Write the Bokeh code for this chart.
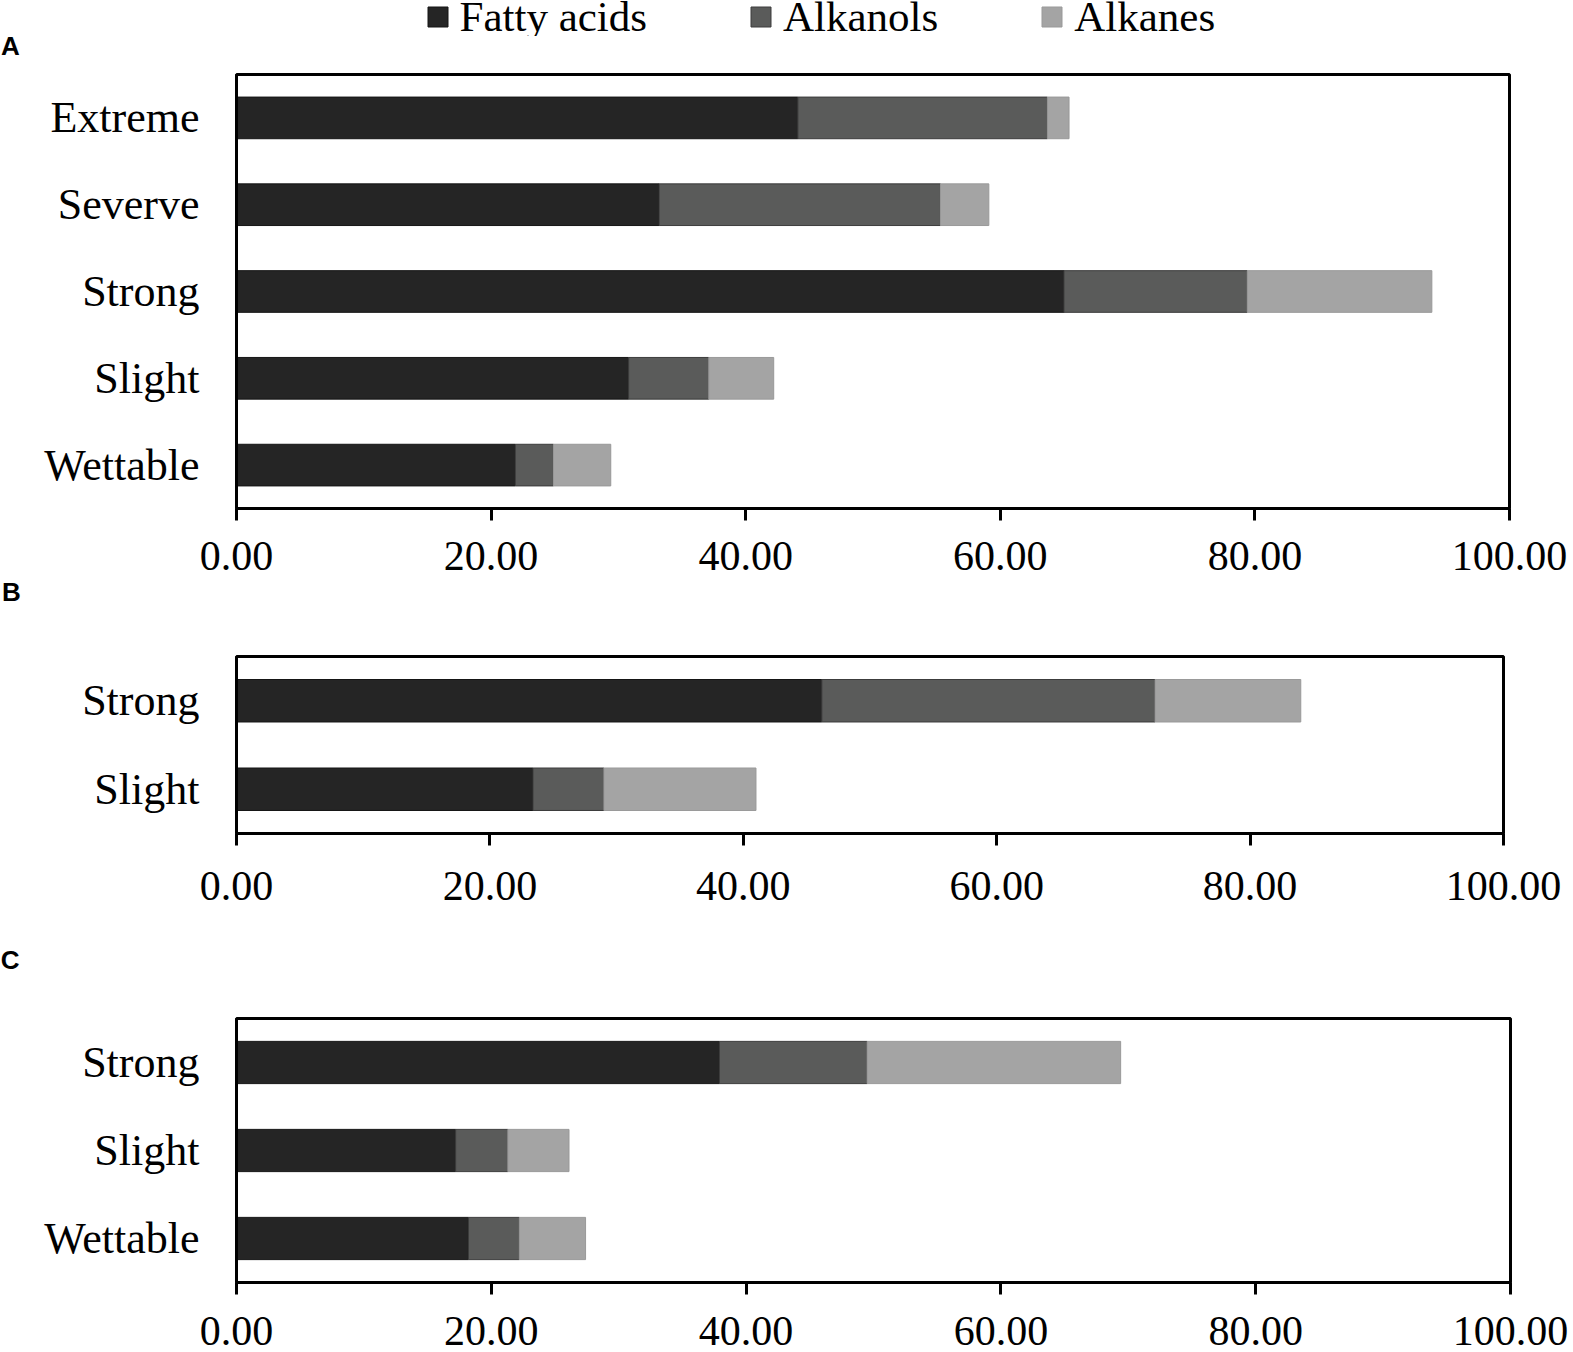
from bokeh.plotting import figure
from bokeh.models import (ColumnDataSource, Range1d, FactorRange, NumeralTickFormatter,
                          FixedTicker, Legend, LegendItem, Label)
from bokeh.layouts import column
from bokeh.embed import file_html
from bokeh.resources import INLINE

# ---------------- data ----------------
series = ["Fatty acids", "Alkanols", "Alkanes"]
colors = ["#252525", "#5a5b5a", "#a4a4a4"]
edge_colors = ["#151515", "#3c3c3c", "#999999"]
x_ticks = [0, 20, 40, 60, 80, 100]

# Panel A (bottom-to-top order)
a_cats = ["Wettable", "Slight", "Strong", "Severve", "Extreme"]
a_fatty = [21.9, 30.8, 65.0, 33.2, 44.1]
a_alkanols = [3.0, 6.3, 14.4, 22.1, 19.6]
a_alkanes = [4.5, 5.1, 14.5, 3.8, 1.7]

# Panel B
b_cats = ["Slight", "Strong"]
b_fatty = [23.4, 46.2]
b_alkanols = [5.6, 26.3]
b_alkanes = [12.0, 11.5]

# Panel C
c_cats = ["Wettable", "Slight", "Strong"]
c_fatty = [18.2, 17.2, 37.9]
c_alkanols = [4.0, 4.1, 11.6]
c_alkanes = [5.2, 4.8, 19.9]

SERIF = "Liberation Serif"
W = 1573
LEFT = 236
STACK = ["fatty", "alkanols", "alkanes"]


def make_source(cats, fatty, alkanols, alkanes):
    return ColumnDataSource(dict(cat=cats, fatty=fatty, alkanols=alkanols, alkanes=alkanes))


def make_panel(src, cats, frame_w, top, frame_h, bottom, letter, letter_y, standoff,
               label_line_height=1.2):
    p = figure(y_range=FactorRange(*cats), x_range=Range1d(0, 100),
               frame_width=frame_w, frame_height=frame_h,
               min_border_left=LEFT, min_border_right=W - LEFT - frame_w,
               min_border_top=top, min_border_bottom=bottom,
               output_backend="svg", toolbar_location=None)
    p.hbar_stack(STACK, y="cat", height=0.48, color=colors, line_color=edge_colors,
                 line_width=1, source=src)
    p.xgrid.visible = False
    p.ygrid.visible = False
    p.outline_line_color = "black"
    p.outline_line_width = 3
    p.background_fill_color = "white"
    p.border_fill_color = "white"

    xa = p.xaxis[0]
    xa.ticker = FixedTicker(ticks=x_ticks)
    xa.formatter = NumeralTickFormatter(format="0.00")
    xa.major_tick_in = 0
    xa.major_tick_out = 12
    xa.minor_tick_out = 0
    xa.minor_tick_in = 0
    xa.major_tick_line_width = 3
    xa.axis_line_width = 3
    xa.major_label_standoff = standoff
    xa.major_label_text_font = SERIF
    xa.major_label_text_font_size = "42px"
    xa.major_label_text_line_height = label_line_height
    xa.major_label_text_color = "black"

    ya = p.yaxis[0]
    ya.major_tick_in = 0
    ya.major_tick_out = 0
    ya.minor_tick_out = 0
    ya.axis_line_width = 3
    ya.major_label_standoff = 37
    ya.major_label_text_font = SERIF
    ya.major_label_text_font_size = "44px"
    ya.major_label_text_color = "black"

    p.add_layout(Label(x=-18.5, y=letter_y, text=letter, text_font="Liberation Sans",
                       text_font_style="bold", text_font_size="26px",
                       text_baseline="middle", text_align="left", text_color="black"),
                 "left")
    return p


srcA = make_source(a_cats, a_fatty, a_alkanols, a_alkanes)
srcB = make_source(b_cats, b_fatty, b_alkanols, b_alkanes)
srcC = make_source(c_cats, c_fatty, c_alkanols, c_alkanes)

# ---- header strip carrying the shared legend (its bars lie outside its view) ----
HEAD_H = 36
head = figure(frame_width=W - LEFT, frame_height=HEAD_H, min_border_left=LEFT,
              min_border_right=0, min_border_top=0, min_border_bottom=0,
              y_range=FactorRange(*a_cats), x_range=Range1d(-300, -200),
              x_axis_type=None, y_axis_type=None,
              output_backend="svg", toolbar_location=None)
head.xgrid.visible = False
head.ygrid.visible = False
head.outline_line_color = None
head.border_fill_color = "white"
head_rs = head.hbar_stack(STACK, y="cat", height=0.48, color=colors,
                          line_color=edge_colors, line_width=1, source=srcA)
legend = Legend(items=[LegendItem(label=s, renderers=[r]) for s, r in zip(series, head_rs)],
                orientation="horizontal", location=(424.5 - LEFT, HEAD_H - 41),
                glyph_width=25, glyph_height=25, label_standoff=10, spacing=101,
                padding=0, margin=0, border_line_alpha=0, background_fill_alpha=0,
                label_text_font=SERIF, label_text_font_size="43px",
                label_text_color="black")
head.add_layout(legend)

pA = make_panel(srcA, a_cats, frame_w=1273, top=74 - HEAD_H, frame_h=434, bottom=66,
                letter="A", letter_y=5.334, standoff=21, label_line_height=0.7)
pB = make_panel(srcB, b_cats, frame_w=1267, top=82, frame_h=177, bottom=97,
                letter="B", letter_y=2.734, standoff=26)
pC = make_panel(srcC, c_cats, frame_w=1274, top=88, frame_h=264, bottom=70,
                letter="C", letter_y=3.67, standoff=22, label_line_height=0.7)

layout = column(head, pA, pB, pC, spacing=0)
open("out.html", "w").write(file_html(layout, INLINE))
